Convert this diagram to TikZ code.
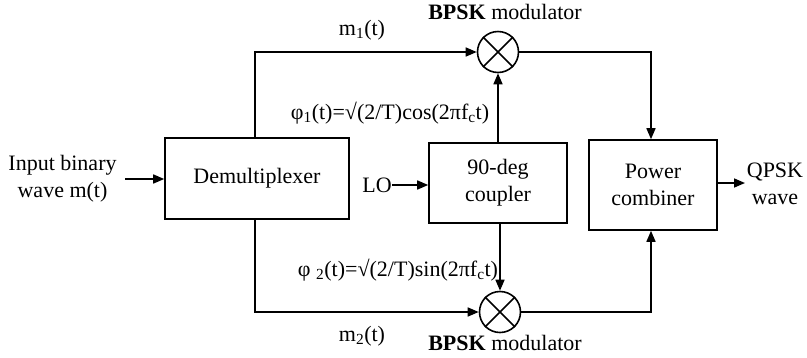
\documentclass[tikz,border=0pt]{standalone}
\usepackage{fontspec}
\setmainfont{Liberation Serif}
\usetikzlibrary{arrows.meta}
\tikzset{
  blk/.style={draw, line width=1.6pt, inner sep=0pt, align=center},
  mixer/.style={draw, circle, line width=1.6pt, minimum size=41pt, inner sep=0pt},
  wire/.style={line width=1.6pt},
  arr/.style={wire, -{Triangle[length=11pt,width=9pt]}},
  lbl/.style={inner sep=0pt, align=center}
}
\begin{document}
\begin{tikzpicture}[x=1pt,y=-1pt,font=\fontsize{22}{27}\selectfont]
\useasboundingbox (0,0) rectangle (807,357);
% blocks
\node[blk, minimum width=184pt, minimum height=81pt] (demux) at (257,178.5) {Demultiplexer};
\node[blk, minimum width=138pt, minimum height=80pt] (coup) at (498,183) {90-deg\\coupler};
\node[blk, minimum width=128pt, minimum height=90pt] (comb) at (653,185) {Power\\combiner};
\node[mixer] (mixA) at (498,52) {};
\node[mixer] (mixB) at (500,312) {};
\draw[wire] (mixA.north west) -- (mixA.south east) (mixA.north east) -- (mixA.south west);
\draw[wire] (mixB.north west) -- (mixB.south east) (mixB.north east) -- (mixB.south west);
% texts
\node[lbl] (intext) at (62.5,179) {Input binary\\wave m(t)};
\node[lbl] (outtext) at (775,183.5) {QPSK\\wave};
\node[lbl] (lo) at (377,185) {LO};
\node[lbl] (m1) at (362,30) {m\textsubscript{1}(t)};
\node[lbl] (m2) at (362,336) {m\textsubscript{2}(t)};
\node[lbl] (bpskA) at (505,12) {\textbf{BPSK} modulator};
\node[lbl] (bpskB) at (505,343) {\textbf{BPSK} modulator};
\node[lbl] (phi1) at (390,113) {φ\textsubscript{1}(t)=√(2/T)cos(2πf\textsubscript{c}t)};
\node[lbl] (phi2) at (398,270) {φ \textsubscript{2}(t)=√(2/T)sin(2πf\textsubscript{c}t)};
% connectors
\coordinate (inA) at (125,179);
\draw[arr] (inA) -- (demux.west |- inA);
\coordinate (t1) at (255,52);
\draw[arr] (demux.north -| t1) -- (t1) -- (mixA.west);
\coordinate (b1) at (255,312);
\draw[arr] (demux.south -| b1) -- (b1) -- (mixB.west);
\draw[arr] (coup.north -| mixA) -- (mixA.south);
\draw[arr] (coup.south -| mixB) -- (mixB.north);
\coordinate (t2) at (651,52);
\draw[arr] (mixA.east) -- (t2) -- (comb.north -| t2);
\coordinate (b2) at (651,312);
\draw[arr] (mixB.east) -- (b2) -- (comb.south -| b2);
\coordinate (loA) at (392,185);
\draw[arr] (loA) -- (coup.west |- loA);
\coordinate (outA) at (745,183);
\draw[arr] (comb.east |- outA) -- (outA);
\end{tikzpicture}
\end{document}
